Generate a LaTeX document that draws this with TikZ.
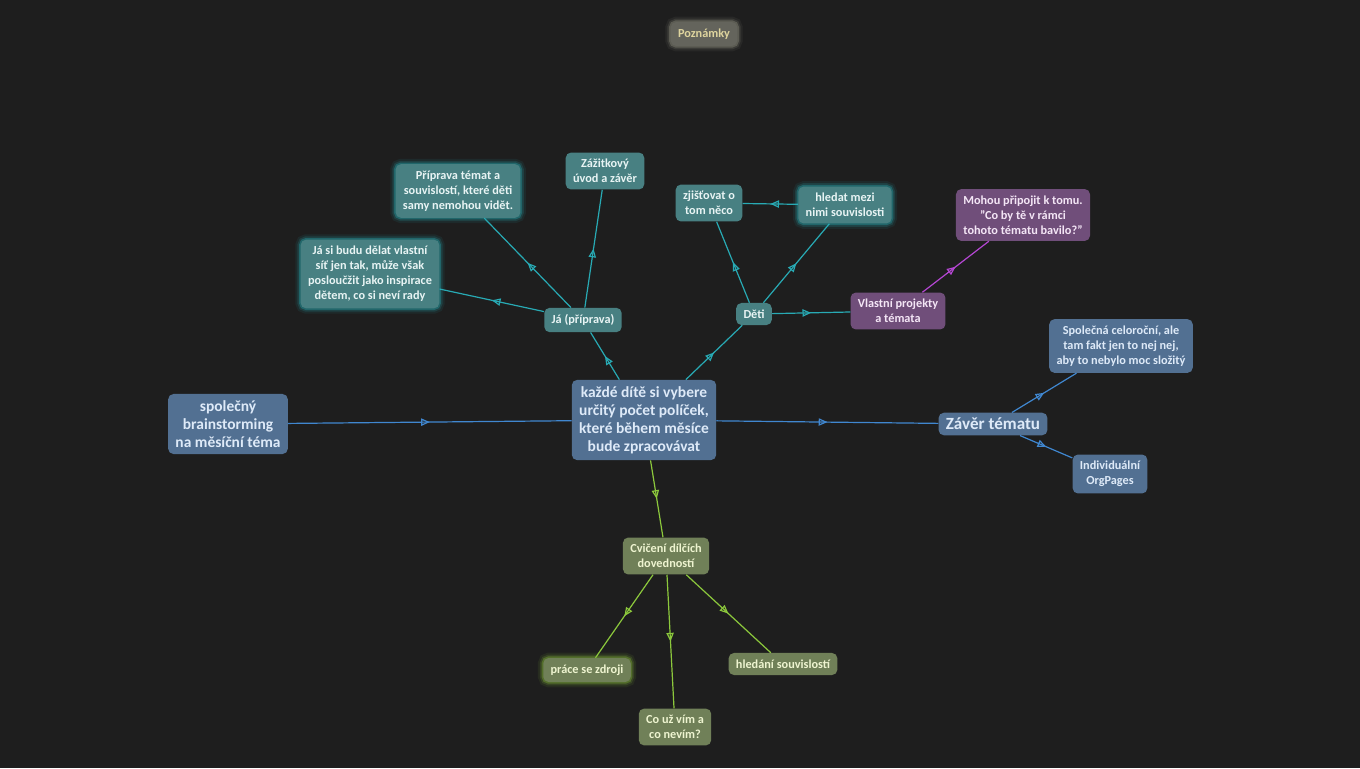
\documentclass[tikz,border=0pt]{standalone}
\usepackage{fontspec}
\setmainfont{Carlito}
\usetikzlibrary{arrows.meta,decorations.markings}
\definecolor{bg}{RGB}{30,30,30}
\definecolor{bluefill}{RGB}{82,112,146}
\definecolor{bluetext}{RGB}{222,234,248}
\definecolor{blueline}{RGB}{64,135,208}
\definecolor{tealfill}{RGB}{72,128,130}
\definecolor{tealtext}{RGB}{232,244,244}
\definecolor{tealline}{RGB}{40,170,180}
\definecolor{tealglow}{RGB}{40,190,200}
\definecolor{purplefill}{RGB}{112,78,122}
\definecolor{purpletext}{RGB}{244,230,246}
\definecolor{purpleline}{RGB}{180,70,210}
\definecolor{greenfill}{RGB}{112,128,88}
\definecolor{greentext}{RGB}{238,244,208}
\definecolor{greenline}{RGB}{140,200,60}
\definecolor{greenglow}{RGB}{150,210,60}
\definecolor{greyfill}{RGB}{100,100,92}
\definecolor{greytext}{RGB}{222,212,158}
\definecolor{greyglow}{RGB}{170,170,150}
\begin{document}
\begin{tikzpicture}[x=0.75pt,y=-0.75pt]
\tikzset{box/.style={rounded corners=4pt,inner xsep=5.5pt,inner ysep=5pt,align=center,font=\bfseries\fontsize{9.2}{11.2}\selectfont},
  bigbox/.style={box,font=\bfseries\fontsize{11.6}{13.4}\selectfont},
  bluebox/.style={box,fill=bluefill,text=bluetext},
  tealbox/.style={box,fill=tealfill,text=tealtext},
  purplebox/.style={box,fill=purplefill,text=purpletext},
  greenbox/.style={box,fill=greenfill,text=greentext},
  greybox/.style={box,fill=greyfill,text=greytext},
  glow/.style={preaction={draw=#1,line width=8pt,draw opacity=0.08},preaction={draw=#1,line width=5pt,draw opacity=0.15},preaction={draw=#1,line width=2.5pt,draw opacity=0.3}},
  midarrow/.style={line width=0.9pt,postaction={decorate},decoration={markings,mark=at position 0.5 with {\arrow{Triangle[open,length=6.5pt,width=5.5pt]}}}}}
\fill[bg] (0,0) rectangle (1360,768);
% nodes
\node[greybox,glow=greyglow] (notes) at (704,34) {Poznámky};
\node[bluebox,bigbox] (brain) at (228,424) {společný\\brainstorming\\na měsíční téma};
\node[bluebox,bigbox] (pick) at (644,420) {každé dítě si vybere\\určitý počet políček,\\které během měsíce\\bude zpracovávat};
\node[bluebox,bigbox,font=\bfseries\fontsize{12.8}{15}\selectfont,inner ysep=4pt] (end) at (993,424) {Závěr tématu};
\node[bluebox] (common) at (1121,346) {Společná celoroční, ale\\tam fakt jen to nej nej,\\aby to nebylo moc složitý};
\node[bluebox] (org) at (1110,474) {Individuální\\OrgPages};
\node[tealbox] (me) at (583,320) {Já (příprava)};
\node[tealbox,glow=tealglow] (prep) at (458,191) {Příprava témat a\\souvislostí, které děti\\samy nemohou vidět.};
\node[tealbox] (exp) at (605,171) {Zážitkový\\úvod a závěr};
\node[tealbox,glow=tealglow] (own) at (370,274) {Já si budu dělat vlastní\\síť jen tak, může však\\posloučžit jako inspirace\\dětem, co si neví rady};
\node[tealbox] (kids) at (754,314) {Děti};
\node[tealbox] (find) at (709,203) {zjišťovat o\\tom něco};
\node[tealbox,glow=tealglow] (link) at (845,205) {hledat mezi\\nimi souvislosti};
\node[purplebox] (proj) at (898,311) {Vlastní projekty\\a témata};
\node[purplebox] (join) at (1023,215) {Mohou připojit k tomu.\\\symbol{34}Co by tě v rámci\\tohoto tématu bavilo?\symbol{34}};
\node[greenbox] (skill) at (666,556) {Cvičení dílčích\\dovedností};
\node[greenbox,glow=greenglow] (src) at (587,670) {práce se zdroji};
\node[greenbox] (know) at (675,727) {Co už vím a\\co nevím?};
\node[greenbox] (rel) at (783,664) {hledání souvislostí};
% connectors
\draw[midarrow,blueline] (brain) -- (pick);
\draw[midarrow,blueline] (pick) -- (end);
\draw[midarrow,blueline] (end) -- (common);
\draw[midarrow,blueline] (end) -- (org);
\draw[midarrow,tealline] (pick) -- (me);
\draw[midarrow,tealline] (me) -- (prep);
\draw[midarrow,tealline] (me) -- (exp);
\draw[midarrow,tealline] (me) -- (own);
\draw[midarrow,tealline] (pick) -- (kids);
\draw[midarrow,tealline] (kids) -- (find);
\draw[midarrow,tealline] (kids) -- (link);
\draw[midarrow,tealline] (link) -- (find);
\draw[midarrow,tealline] (kids) -- (proj);
\draw[midarrow,purpleline] (proj) -- (join);
\draw[midarrow,greenline] (pick) -- (skill);
\draw[midarrow,greenline] (skill) -- (src);
\draw[midarrow,greenline] (skill) -- (know);
\draw[midarrow,greenline] (skill) -- (rel);
\end{tikzpicture}
\end{document}
